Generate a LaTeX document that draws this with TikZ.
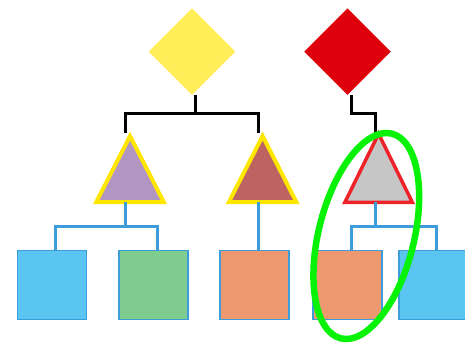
\documentclass[tikz,border=0pt]{standalone}
\usepackage{tikz}
\usetikzlibrary{shapes.geometric}

\definecolor{dyellow}{HTML}{FFEE58}
\definecolor{dred}{HTML}{DF000E}
\definecolor{tyellow}{HTML}{FFE600}
\definecolor{tred}{HTML}{EE2229}
\definecolor{tpurple}{HTML}{B296C2}
\definecolor{tbrown}{HTML}{BD6362}
\definecolor{tgray}{HTML}{C6C6C6}
\definecolor{lineblue}{HTML}{3D9CDA}
\definecolor{sqblue}{HTML}{5BC5F2}
\definecolor{sqgreen}{HTML}{7ECD8E}
\definecolor{sqorange}{HTML}{EE9870}
\definecolor{ringgreen}{HTML}{08F208}

\tikzset{
  dia/.style={diamond, aspect=1, inner sep=0, outer sep=0, minimum width=86.5, minimum height=86.5},
  tri/.style={isosceles triangle, isosceles triangle stretches, shape border rotate=90,
    inner sep=0, outer sep=0, minimum width=67.4, minimum height=66, line width=4,
    line join=miter, anchor=lower side},
  sqbox/.style={rectangle, draw=lineblue, line width=1.5, inner sep=0, outer sep=0, minimum size=69},
  blk/.style={black, line width=3},
  blu/.style={lineblue, line width=3},
}

\begin{document}
\begin{tikzpicture}[x=1pt,y=1pt]
        \useasboundingbox (0,0) rectangle (465,343);

        \node [dia, fill=dyellow] (yd) at (192,291.3) {};
        \node [dia, fill=dred] (rd) at (347.5,291.3) {};

        \node [tri, draw=tyellow, fill=tpurple] (tp) at (130,141) {};
        \node [tri, draw=tyellow, fill=tbrown] (tb) at (262.6,141) {};
        \node [tri, draw=tred, fill=tgray, line width=3.5, minimum height=68.5] (tg) at (378.6,140.7) {};

        \node [sqbox, fill=sqblue] (s1) at (52,58) {};
        \node [sqbox, fill=sqgreen] (s2) at (153.3,58) {};
        \node [sqbox, fill=sqorange] (s3) at (254.6,58) {};
        \node [sqbox, fill=sqorange] (s4) at (347.7,58) {};
        \node [sqbox, fill=sqblue] (s5) at (433.3,58) {};

        % top level
        \draw [blk] ([xshift=3.7]yd.south) -- ++(0,-18.5) -| ([xshift=-4.3,yshift=2.5]tp.apex);
        \draw [blk] ([xshift=3.7]yd.south) -- ++(0,-18.5) -| ([xshift=-4.3,yshift=2.5]tb.apex);
        \draw [blk] ([xshift=3.5]rd.south) -- ++(0,-19) -| ([xshift=-2.9,yshift=0.8]tg.apex);

        % bottom level
        \draw [blu] ([xshift=-4.3]tp.lower side) -- ++(0,-24.7) -| ([xshift=3.7]s1.north);
        \draw [blu] ([xshift=-4.3]tp.lower side) -- ++(0,-24.7) -| ([xshift=3.7]s2.north);
        \draw [blu] ([xshift=-4.3]tb.lower side) -- ([xshift=3.7]s3.north);
        \draw [blu] ([xshift=-3.6]tg.lower side) -- ++(0,-24.4) -| ([xshift=3.6]s4.north);
        \draw [blu] ([xshift=-3.6]tg.lower side) -- ++(0,-24.4) -| ([xshift=3.6]s5.north);

        \draw [ringgreen, line width=6.5, rotate around={76:(366.3,107)}] (366.3,107) ellipse (105.5pt and 47.7pt);
\end{tikzpicture}
\end{document}
